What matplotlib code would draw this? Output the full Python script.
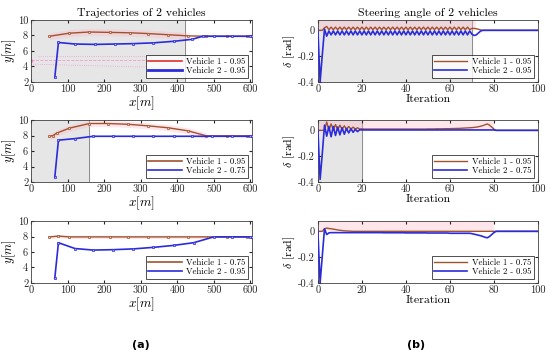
import numpy as np
import matplotlib
matplotlib.use("Agg")
import matplotlib.pyplot as plt
from matplotlib.lines import Line2D

plt.rcParams['font.family'] = ['cmr10', 'DejaVu Serif']
plt.rcParams['mathtext.fontset'] = 'cm'
plt.rcParams['axes.unicode_minus'] = False
plt.rcParams['axes.formatter.use_mathtext'] = True

C1 = '#a0522d'   # vehicle 1 (brown)
C2 = '#2b2bdb'   # vehicle 2 (blue)
GRAY = '#e6e6e6'
PINK = '#ffb8c8'

# ---------------- trajectories (left column) ----------------
# panel 1
tx1_v1 = [50, 105, 160, 215, 270, 320, 375, 430, 480, 535, 590, 605]
ty1_v1 = [7.9, 8.3, 8.45, 8.4, 8.35, 8.25, 8.1, 7.95, 7.9, 7.9, 7.9, 7.9]
tx1_v2 = [65, 75, 120, 175, 230, 280, 335, 390, 440, 470, 500, 550, 600, 605]
ty1_v2 = [2.6, 7.1, 6.9, 6.85, 6.9, 6.95, 7.05, 7.25, 7.5, 7.9, 7.9, 7.9, 7.9, 7.9]
# panel 2
tx2_v1 = [50, 60, 70, 105, 160, 210, 265, 320, 375, 430, 480, 535, 590, 605]
ty2_v1 = [7.9, 8.0, 8.3, 8.95, 9.55, 9.55, 9.45, 9.25, 9.0, 8.6, 7.95, 7.95, 7.95, 7.95]
tx2_v2 = [65, 75, 120, 170, 225, 280, 335, 390, 440, 495, 550, 600, 605]
ty2_v2 = [2.6, 7.4, 7.6, 7.9, 7.9, 7.9, 7.9, 7.9, 7.9, 7.9, 7.9, 7.9, 7.9]
# panel 3
tx3_v1 = [50, 75, 105, 160, 215, 265, 320, 375, 430, 485, 535, 590, 605]
ty3_v1 = [7.95, 8.05, 7.95, 7.95, 7.95, 7.95, 7.95, 7.95, 7.95, 7.95, 7.95, 7.95, 7.95]
tx3_v2 = [65, 75, 120, 170, 225, 280, 335, 390, 445, 500, 550, 600, 605]
ty3_v2 = [2.6, 7.2, 6.45, 6.25, 6.3, 6.4, 6.6, 6.85, 7.2, 7.95, 7.95, 7.95, 7.95]

traj_legends = [("Vehicle 1 - 0.95", "Vehicle 2 - 0.95"),
                ("Vehicle 1 - 0.95", "Vehicle 2 - 0.75"),
                ("Vehicle 1 - 0.75", "Vehicle 2 - 0.95")]
traj_gray_end = [420, 160, None]
traj_pink = [(50, 470, 0.45), (50, 480, 0.4), (50, 490, 0.2)]

# ---------------- steering angle (right column) ----------------
it = np.arange(101)
osc1 = [0.025, 0.005] * 5
osc2 = [-0.035, -0.005] * 5
s1_v1 = ([0, 0, 0, 0.02, 0.03, 0.005, 0.025, 0.005, 0.025, 0.005]
         + osc1 + osc1 + osc1 + osc1 + osc1 + osc1
         + [0.015, 0.015, 0.012, 0.008, 0.003, 0, 0, 0, 0, 0]
         + [0] * 21)
s1_v2 = ([0, -0.4, -0.19, 0.01, -0.045, -0.005, -0.035, -0.005, -0.035, -0.005]
         + osc2 + osc2 + osc2 + osc2 + osc2 + osc2
         + [-0.03, -0.04, -0.035, -0.02, -0.005, 0, 0, 0, 0, 0]
         + [0] * 21)
s2_v1 = ([0, 0, 0, 0, 0.065, 0.0, 0.05, 0.005, 0.045, 0.005,
          0.04, 0.008, 0.035, 0.008, 0.03, 0.01, 0.025, 0.01, 0.02, 0.01]
         + [0.012, 0.01, 0.01, 0.01, 0.01, 0.01, 0.01, 0.01, 0.01, 0.01]
         + [0.01, 0.01, 0.01, 0.01, 0.01, 0.01, 0.01, 0.01, 0.01, 0.01]
         + [0.01, 0.01, 0.01, 0.01, 0.01, 0.01, 0.01, 0.01, 0.01, 0.01]
         + [0.011, 0.011, 0.011, 0.011, 0.012, 0.012, 0.012, 0.012, 0.013, 0.013]
         + [0.013, 0.014, 0.014, 0.015, 0.015, 0.016, 0.017, 0.018, 0.019, 0.02]
         + [0.021, 0.023, 0.025, 0.028, 0.032, 0.037, 0.043, 0.05, 0.04, 0.025]
         + [0.01, 0.0, 0, 0, 0, 0, 0, 0, 0, 0]
         + [0] * 11)
s2_v2 = ([0, -0.38, -0.18, 0.04, -0.045, 0.03, -0.05, 0.03, -0.04, 0.025,
          -0.035, 0.02, -0.03, 0.015, -0.02, 0.012, -0.015, 0.008, -0.01, 0.005]
         + [0.003] * 61
         + [0.0] * 20)
s3_v1 = ([0, 0, 0, 0.02, 0.025, 0.022, 0.02, 0.017, 0.014, 0.011,
          0.008, 0.006, 0.004, 0.003, 0.002, 0.001]
         + [0] * 85)
s3_v2 = ([0, -0.4, -0.19, 0.02, -0.025, -0.012, -0.01, -0.01, -0.01, -0.01]
         + [-0.01] * 20
         + [-0.011] * 10 + [-0.012] * 10 + [-0.013] * 10 + [-0.015] * 10
         + [-0.018, -0.022, -0.026, -0.03, -0.034, -0.04, -0.046, -0.05, -0.04, -0.025]
         + [-0.01, 0.0]
         + [0] * 19)

steer = [(s1_v1, s1_v2), (s2_v1, s2_v2), (s3_v1, s3_v2)]
steer_gray_end = [70, 20, None]
steer_pink_end = [72, 80, 80]

fig = plt.figure(figsize=(5.5, 3.59), dpi=100)

left_pos = [[0.0564, 0.7716, 0.402, 0.1727],
            [0.0564, 0.4930, 0.402, 0.1727],
            [0.0564, 0.2117, 0.402, 0.1727]]
right_pos = [[0.578, 0.7716, 0.4, 0.1727],
             [0.578, 0.4930, 0.4, 0.1727],
             [0.578, 0.2117, 0.4, 0.1727]]

trajs = [(tx1_v1, ty1_v1, tx1_v2, ty1_v2),
         (tx2_v1, ty2_v1, tx2_v2, ty2_v2),
         (tx3_v1, ty3_v1, tx3_v2, ty3_v2)]

leg_kw = dict(loc='lower right', fontsize=6.3, frameon=True, fancybox=False,
              edgecolor='black', handlelength=3.8, borderpad=0.3,
              labelspacing=0.15, handletextpad=0.5, borderaxespad=0.45)


def style_axes(ax):
    ax.tick_params(labelsize=7.5, length=2, direction='in', pad=2,
                   colors='#262626', top=True, right=True)
    for s in ax.spines.values():
        s.set_color('#404040')
        s.set_linewidth(0.6)


for i in range(3):
    ax = fig.add_axes(left_pos[i])
    xa, ya, xb, yb = trajs[i]
    if traj_gray_end[i]:
        ax.axvspan(0, traj_gray_end[i], color=GRAY, zorder=0)
        ax.axvline(traj_gray_end[i], color='#8c8c8c', lw=0.7, zorder=1)
    p0, p1, w = traj_pink[i]
    xa_arr = np.array(xa)
    ya_arr = np.array(ya)
    m = (xa_arr >= p0) & (xa_arr <= p1)
    ax.fill_between(xa_arr[m], ya_arr[m] - w, ya_arr[m] + w, color=PINK,
                    alpha=0.35, lw=0, zorder=1)
    if i == 0:
        ax.plot([0, 430], [4.8, 4.8], color='#ff66cc', lw=0.6, ls='--',
                marker='^', ms=2, markevery=6, alpha=0.6, zorder=1)
        ax.plot([20, 330], [5.4, 5.4], color='#ff66cc', lw=0.6, ls=':', alpha=0.6)
        ax.plot([0, 600], [4.3, 3.6], color='#ff66cc', lw=0.6, ls=':', alpha=0.6)
    ax.plot(xa, ya, color=C1, lw=1.0, marker='s', ms=2,
            mfc='#e0c8b8', mec=C1, mew=0.5, zorder=3)
    ax.plot(xb, yb, color=C2, lw=1.2, marker='s', ms=2,
            mfc='#a8a8f0', mec=C2, mew=0.5, zorder=3)
    if i == 0:
        h1 = Line2D([], [], color='#e03030', lw=1.2)
        h2 = Line2D([], [], color=C2, lw=2.0)
    else:
        h1 = Line2D([], [], color=C1, lw=1.2)
        h2 = Line2D([], [], color=C2, lw=1.2)
    ax.set_xlim(0, 605)
    ax.set_ylim(2, 10)
    ax.set_xticks([0, 100, 200, 300, 400, 500, 600])
    ax.set_yticks([2, 4, 6, 8, 10])
    ax.set_xticklabels(['0', '100', '200', '300', '400', '500', '600'])
    ax.set_yticklabels(['2', '4', '6', '8', '10'])
    style_axes(ax)
    ax.set_xlabel(r'$x[m]$', fontsize=9.5, labelpad=0)
    ax.set_ylabel(r'$y[m]$', fontsize=9, labelpad=0)
    leg = ax.legend([h1, h2], traj_legends[i], **leg_kw)
    leg.get_frame().set_linewidth(0.6)
    if i == 0:
        ax.set_title('Trajectories of 2 vehicles', fontsize=8.5, pad=3)

for i in range(3):
    ax = fig.add_axes(right_pos[i])
    va, vb = steer[i]
    if steer_gray_end[i]:
        ax.axvspan(0, steer_gray_end[i], color=GRAY, zorder=0)
        ax.axvline(steer_gray_end[i], color='#8c8c8c', lw=0.7, zorder=1)
    ax.fill_between([0, steer_pink_end[i]], [0, 0], [0.08, 0.08], color=PINK,
                    alpha=0.35, lw=0, zorder=1)
    l1, = ax.plot(it, va, color=C1, lw=1.0, zorder=3)
    l2, = ax.plot(it, vb, color=C2, lw=1.2, zorder=3)
    ax.set_xlim(0, 100)
    ax.set_ylim(-0.4, 0.08)
    ax.set_xticks([0, 20, 40, 60, 80, 100])
    ax.set_xticklabels(['0', '20', '40', '60', '80', '100'])
    ax.set_yticks([-0.4, -0.2, 0])
    ax.set_yticklabels(['-0.4', '-0.2', '0'])
    style_axes(ax)
    ax.set_xlabel('Iteration', fontsize=8.5, labelpad=0)
    ax.set_ylabel(r'$\delta$ [rad]', fontsize=8.5, labelpad=1)
    leg = ax.legend([l1, l2], traj_legends[i], **leg_kw)
    leg.get_frame().set_linewidth(0.6)
    if i == 0:
        ax.set_title('Steering angle of 2 vehicles', fontsize=8.5, pad=3)

fig.text(141 / 550, 1 - 345 / 359, '(a)', ha='center', va='center',
         fontsize=8, fontweight='bold', family='DejaVu Sans')
fig.text(416 / 550, 1 - 345 / 359, '(b)', ha='center', va='center',
         fontsize=8, fontweight='bold', family='DejaVu Sans')

fig.savefig('out.png', dpi=100)
